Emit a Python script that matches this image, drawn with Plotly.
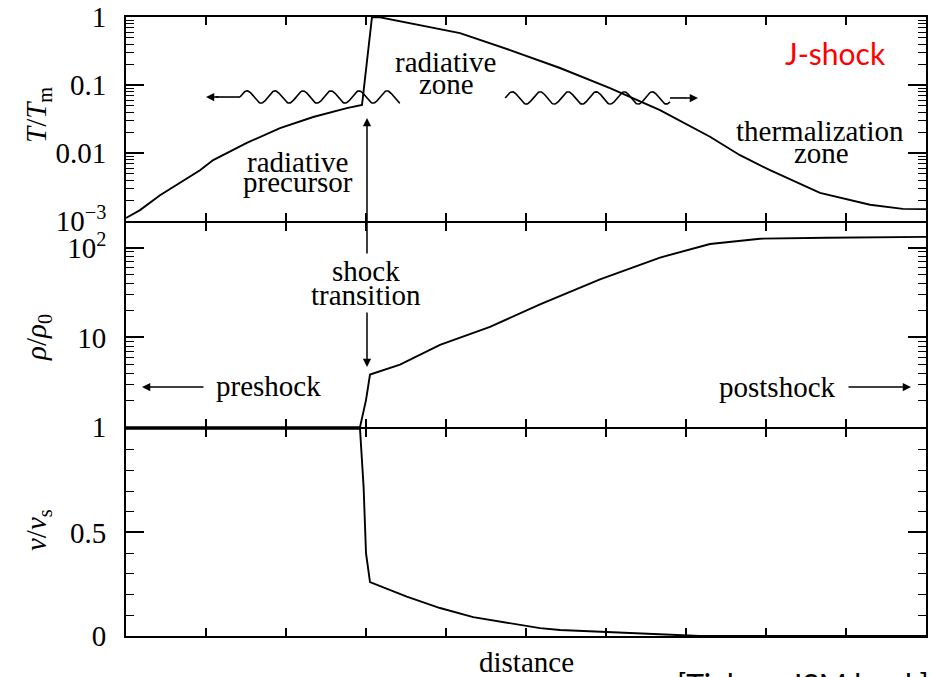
import numpy as np
import plotly.graph_objects as go

# ---- profile data (distance in arbitrary units, 0..10) ----
dist_T = [0.0, 0.175, 0.425, 0.675, 0.925, 1.09, 1.51, 1.925, 2.34, 2.76, 2.95,
          3.075, 3.175, 4.175, 4.8, 5.425, 6.05, 6.675, 7.3, 7.675, 8.05, 8.675,
          9.3, 9.71, 10.0]
temp = [0.00111, 0.00145, 0.0024, 0.0037, 0.0056, 0.0079, 0.0141, 0.0233, 0.0339,
        0.0457, 0.0508, 1.0, 0.99, 0.58, 0.327, 0.178, 0.0904, 0.0429, 0.0174,
        0.0093, 0.0056, 0.0026, 0.00174, 0.00151, 0.0015]

dist_rho = [0.0, 2.925, 3.0, 3.05, 3.425, 3.925, 4.55, 5.175, 5.925, 6.675, 7.3,
            7.925, 8.76, 10.0]
rho = [1, 1, 2.0, 3.85, 4.97, 8.26, 13.1, 23.4, 44.3, 77.6, 110, 126, 129, 132]

dist_v = [0.0, 2.925, 2.97, 3.0, 3.05, 3.51, 3.925, 4.34, 5.175, 5.425, 6.01,
          6.425, 6.84, 7.175, 10.0]
vel = [1.0, 1.0, 0.72, 0.40, 0.26, 0.19, 0.135, 0.091, 0.038, 0.029, 0.019,
       0.012, 0.003, 0.0, 0.0]

x_ticks = [1, 2, 3, 4, 5, 6, 7, 8, 9]
T_ticks = [0.001, 0.01, 0.1, 1]
T_labels = ["10<sup>−3</sup>", "0.01", "0.1", "1"]
rho_ticks = [1, 10, 100]
rho_labels = ["1", "10", "10<sup>2</sup>"]
v_ticks = [0, 0.5, 1]
v_labels = ["0", "0.5", ""]

W, H = 941, 677
ML, MR, MT, MB = 126, 15, 17, 41
PLOT_H = H - MT - MB
LW = 1.8  # frame line width


def py(pix):
    """Pixel row -> paper y."""
    return (H - MB - pix) / PLOT_H


def px(pix):
    """Pixel column -> distance units."""
    return (pix - ML) / ((W - ML - MR) / 10.0)


SERIF = "Liberation Serif, Times New Roman, serif"
SANS = "Lato, Carlito, sans-serif"
FS = 29
line_style = dict(color="black", width=1.9)

fig = go.Figure()
fig.add_trace(go.Scatter(x=dist_T, y=temp, xaxis="x", yaxis="y", mode="lines",
                         line=line_style, showlegend=False))
fig.add_trace(go.Scatter(x=dist_rho, y=rho, xaxis="x2", yaxis="y2", mode="lines",
                         line=line_style, showlegend=False))
fig.add_trace(go.Scatter(x=dist_v, y=vel, xaxis="x3", yaxis="y3", mode="lines",
                         line=line_style, showlegend=False))

# wavy photon arrows in the temperature panel
def wave(x0, x1, y_log, period=0.35, amp=0.09):
    xs = np.linspace(x0, x1, 240)
    ys = 10 ** (y_log + amp * np.sin(2 * np.pi * (xs - x0) / period))
    return xs, ys

for (a, b, yl, s0, s1) in [(1.425, 3.425, -1.176, 1.12, 1.425),
                           (4.74, 6.8, -1.19, 6.8, 7.0)]:
    xs, ys = wave(a, b, yl)
    fig.add_trace(go.Scatter(x=xs, y=ys, xaxis="x", yaxis="y", mode="lines",
                             line=dict(color="black", width=1.6), showlegend=False))
    fig.add_trace(go.Scatter(x=[s0, s1], y=[10 ** yl, 10 ** yl], xaxis="x", yaxis="y",
                             mode="lines", line=dict(color="black", width=1.6),
                             showlegend=False))

# panels share their frame lines: overlap by one line width so they coincide
h = LW / 2
dom_top = [py(222 - h), 1.0]
dom_mid = [py(428 - h), py(222 + h)]
dom_bot = [0.0, py(428 + h)]

xcommon = dict(range=[0, 10], showline=True, linecolor="black", linewidth=LW,
               mirror="allticks", ticks="inside", tickvals=x_ticks, ticklen=8,
               tickwidth=1.5, tickcolor="black", showticklabels=False,
               showgrid=False, zeroline=False, automargin=False)
ycommon = dict(showline=True, linecolor="black", linewidth=LW, mirror="allticks",
               ticks="inside", ticklen=18, tickwidth=1.5, tickcolor="black",
               showgrid=False, zeroline=False, ticklabelstandoff=12,
               automargin=False,
               tickfont=dict(family=SERIF, size=FS, color="black"))

minor_T = [m * 10 ** e for e in (-3, -2, -1) for m in range(2, 10)]
minor_rho = [m * 10 ** e for e in (0, 1) for m in range(2, 10)]
minor_v = [0.1, 0.2, 0.3, 0.4, 0.6, 0.7, 0.8, 0.9]
minor_style = dict(ticks="inside", ticklen=8, tickwidth=1.3, tickcolor="black",
                   showgrid=False)

fig.update_layout(
    template="none",
    width=W, height=H,
    margin=dict(l=ML, r=MR, t=MT, b=MB, autoexpand=False),
    paper_bgcolor="white", plot_bgcolor="white",
    xaxis=dict(anchor="y", **xcommon),
    xaxis2=dict(anchor="y2", matches="x", **xcommon),
    xaxis3=dict(anchor="y3", matches="x", **xcommon),
    yaxis=dict(anchor="x", domain=dom_top, type="log", range=[-3, 0],
               tickvals=T_ticks, ticktext=T_labels,
               minor=dict(tickvals=minor_T, **minor_style), **ycommon),
    yaxis2=dict(anchor="x2", domain=dom_mid, type="log", range=[0, np.log10(189)],
                tickvals=rho_ticks, ticktext=rho_labels,
                minor=dict(tickvals=minor_rho, **minor_style), **ycommon),
    yaxis3=dict(anchor="x3", domain=dom_bot, range=[0, 1],
                tickvals=v_ticks, ticktext=v_labels,
                minor=dict(tickvals=minor_v, **minor_style), **ycommon),
)

serif = dict(family=SERIF, size=FS, color="black")
texts = [
    ("radiative", 445, 62), ("zone", 446, 84),
    ("radiative", 297, 162), ("precursor", 298, 182),
    ("thermalization", 820, 131), ("zone", 821, 153),
    ("shock", 366, 271), ("transition", 366, 295),
    ("preshock", 268, 386), ("postshock", 777, 387),
    ("distance", 526, 662),
]
for t, cx, cy in texts:
    fig.add_annotation(text=t, x=px(cx), y=py(cy), xref="x", yref="paper",
                       showarrow=False, font=serif, xanchor="center", yanchor="middle")

# axis titles
for t, cy in [("<i>T</i>/<i>T</i><sub>m</sub>", 115),
              ("<i>ρ</i>/<i>ρ</i><sub>0</sub>", 338),
              ("<i>v</i>/<i>v</i><sub>s</sub>", 530)]:
    fig.add_annotation(text=t, x=(38 - ML) / (W - ML - MR), y=py(cy), xref="paper",
                       yref="paper", showarrow=False, textangle=-90, font=serif,
                       xanchor="center", yanchor="middle")

arrow = dict(showarrow=True, arrowhead=2, arrowsize=1.1, arrowwidth=1.5,
             arrowcolor="black", xref="x", yref="paper")
# photon arrowheads
fig.add_annotation(x=px(206), y=py(97), ax=14, ay=0, text="", **arrow)
fig.add_annotation(x=px(698), y=py(98), ax=-14, ay=0, text="", **arrow)
# shock transition arrows
fig.add_annotation(x=px(367), y=py(118), ax=0, ay=255 - 118, text="", **arrow)
fig.add_annotation(x=px(367), y=py(367), ax=0, ay=311 - 367, text="", **arrow)
# preshock / postshock arrows
fig.add_annotation(x=px(142), y=py(387), ax=205 - 142, ay=0, text="", **arrow)
fig.add_annotation(x=px(911), y=py(387), ax=847 - 911, ay=0, text="", **arrow)

fig.add_annotation(text="J-shock", x=px(835), y=py(53), xref="x", yref="paper",
                   showarrow=False, font=dict(family=SANS, size=30, color="red"),
                   xanchor="center", yanchor="middle")
fig.add_annotation(text="[Tielens, ISM book]", x=px(675), y=py(664), xref="x",
                   yref="paper", showarrow=False,
                   font=dict(family=SANS, size=30, color="black"),
                   xanchor="left", yanchor="top")

fig.write_html("out.html")
